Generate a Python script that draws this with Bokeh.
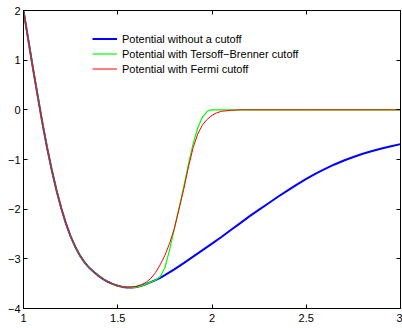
from bokeh.plotting import figure
from bokeh.models import (LinearAxis, FixedTicker, Legend, LegendItem, Range1d,
                          CustomLabelingPolicy)
from bokeh.embed import file_html
from bokeh.resources import INLINE

# ---- data ----
common_x = [1.000, 1.025, 1.050, 1.075, 1.100, 1.125, 1.150, 1.175, 1.200, 1.225,
            1.250, 1.275, 1.300, 1.325, 1.350, 1.375, 1.400, 1.425, 1.450, 1.475,
            1.500, 1.525]
common_y = [2.00, 1.42, 0.84, 0.285, -0.258, -0.758, -1.213, -1.621, -1.978, -2.286,
            -2.546, -2.761, -2.936, -3.076, -3.186, -3.272, -3.348, -3.413, -3.467,
            -3.510, -3.543, -3.565]

blue_x = common_x + [1.550, 1.575, 1.600, 1.625, 1.650, 1.675, 1.700, 1.725, 1.750,
                     1.800, 1.850, 1.900, 1.950, 2.000, 2.050, 2.100, 2.150, 2.200,
                     2.250, 2.300, 2.350, 2.400, 2.450, 2.500, 2.550, 2.600, 2.650,
                     2.700, 2.750, 2.800, 2.850, 2.900, 2.950, 3.000]
blue_y = common_y + [-3.577, -3.578, -3.568, -3.545, -3.51, -3.47, -3.43, -3.385, -3.33,
                     -3.213, -3.085, -2.955, -2.825, -2.695, -2.56, -2.42, -2.28, -2.14,
                     -2.01, -1.88, -1.75, -1.625, -1.505, -1.39, -1.285, -1.19, -1.10,
                     -1.02, -0.95, -0.885, -0.83, -0.78, -0.735, -0.69]

green_x = common_x + [1.550, 1.575, 1.600, 1.625, 1.650, 1.675, 1.700, 1.725, 1.750,
                      1.775, 1.800, 1.825, 1.850, 1.875, 1.900, 1.925, 1.950, 1.975,
                      1.990, 2.000, 2.500, 3.000]
green_y = common_y + [-3.577, -3.578, -3.568, -3.545, -3.51, -3.47, -3.43, -3.36, -3.18,
                      -2.82, -2.40, -1.98, -1.55, -1.10, -0.68, -0.36, -0.14, -0.03,
                      -0.005, 0.0, 0.0, 0.0]

red_x = common_x + [1.550, 1.575, 1.600, 1.625, 1.650, 1.675, 1.700, 1.725, 1.750,
                    1.775, 1.800, 1.825, 1.850, 1.875, 1.900, 1.925, 1.950, 1.975,
                    2.000, 2.025, 2.050, 2.100, 2.150, 2.500, 3.000]
red_y = common_y + [-3.574, -3.568, -3.55, -3.52, -3.475, -3.395, -3.28, -3.12, -2.93,
                    -2.69, -2.39, -2.00, -1.60, -1.15, -0.76, -0.48, -0.30, -0.19,
                    -0.11, -0.06, -0.03, -0.01, 0.0, 0.0, 0.0]

labels = ["Potential without a cutoff",
          "Potential with Tersoff\u2212Brenner cutoff",
          "Potential with Fermi cutoff"]
colors = ["#0000FF", "#00FF00", "#FF0000"]

x_ticks = [1, 1.5, 2, 2.5, 3]
x_tick_labels = ["1", "1.5", "2", "2.5", "3"]
y_ticks = [-4, -3, -2, -1, 0, 1, 2]
y_tick_labels = ["\u22124", "\u22123", "\u22122", "\u22121", "0", "1", "2"]

FONT = "Liberation Sans"

p = figure(width=402, height=328, output_backend="svg", toolbar_location=None,
           x_range=Range1d(1, 3), y_range=Range1d(-4, 2),
           min_border_left=23, min_border_right=2, min_border_top=10,
           min_border_bottom=20, background_fill_color="white",
           border_fill_color="white")
p.xgrid.visible = False
p.ygrid.visible = False
p.outline_line_color = "black"
p.outline_line_width = 1

def style_axis(ax, ticks, overrides, show_labels, standoff):
    ax.ticker = FixedTicker(ticks=ticks)
    ax.major_label_overrides = overrides
    ax.major_tick_in = 4
    ax.major_tick_out = 0
    ax.minor_tick_line_color = None
    ax.axis_line_color = "black"
    ax.major_tick_line_color = "black"
    ax.major_label_text_font = FONT
    ax.major_label_text_color = "black"
    ax.major_label_text_font_size = "11px"
    ax.major_label_standoff = standoff
    if not show_labels:
        ax.major_label_text_font_size = "0px"
        ax.major_label_policy = CustomLabelingPolicy(
            code="for (const i of indices) { indices.unset(i) }; return indices")

xo = {t: l for t, l in zip(x_ticks, x_tick_labels)}
yo = {t: l for t, l in zip(y_ticks, y_tick_labels)}
style_axis(p.xaxis[0], x_ticks, xo, True, 5)
style_axis(p.yaxis[0], y_ticks, yo, True, 3)

top = LinearAxis()
right = LinearAxis()
style_axis(top, x_ticks, {}, False, 0)
style_axis(right, y_ticks, {}, False, 0)
p.add_layout(top, "above")
p.add_layout(right, "right")

r1 = p.line(blue_x, blue_y, line_color=colors[0], line_width=2)
r2 = p.line(green_x, green_y, line_color=colors[1], line_width=1.2)
r3 = p.line(red_x, red_y, line_color=colors[2], line_width=1)

legend = Legend(items=[LegendItem(label=labels[0], renderers=[r1]),
                       LegendItem(label=labels[1], renderers=[r2]),
                       LegendItem(label=labels[2], renderers=[r3])],
                location=(69, 232), border_line_color=None,
                background_fill_alpha=0, padding=0, margin=0, spacing=0,
                glyph_width=25, glyph_height=15, label_height=15,
                label_standoff=5, label_text_font_size="11px",
                label_text_font=FONT, label_text_color="black")
p.add_layout(legend)

open("out.html", "w").write(file_html(p, INLINE))
